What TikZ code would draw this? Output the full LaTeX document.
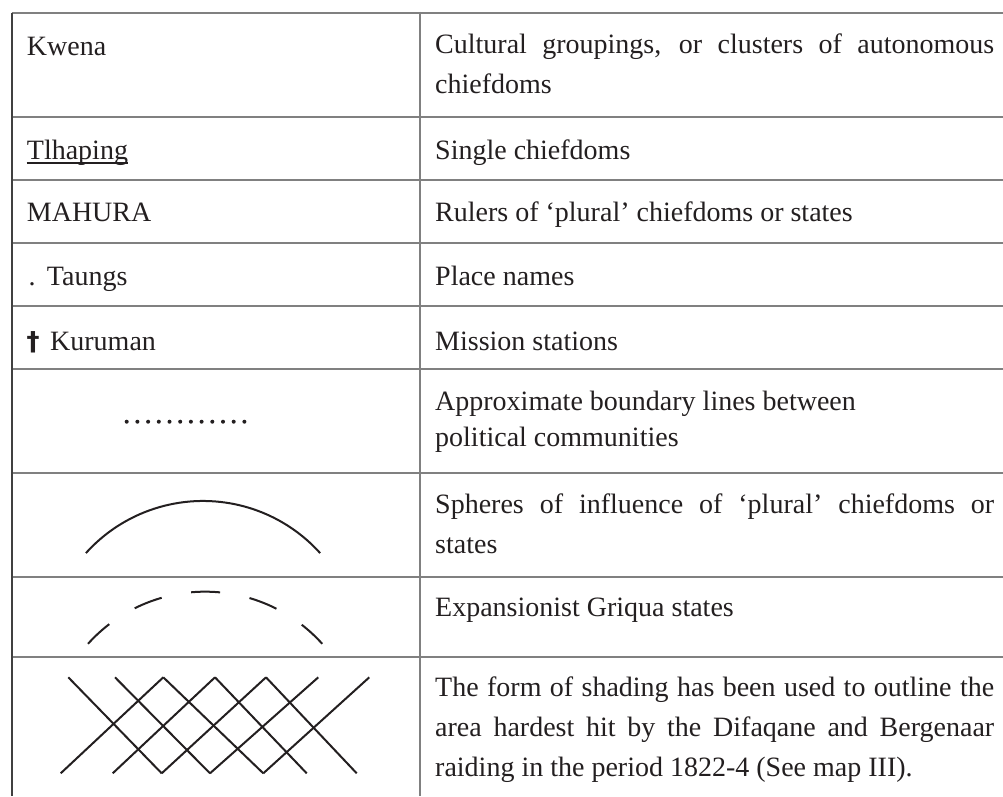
\documentclass[tikz,border=0pt]{standalone}
\usepackage{fontspec}
\setmainfont{Liberation Serif}
\newfontfamily\dagfont{DejaVu Sans}
\definecolor{ink}{HTML}{231F20}
\definecolor{rulegray}{HTML}{808080}
\definecolor{leftrule}{HTML}{404040}
\begin{document}
\begin{tikzpicture}[x=1pt,y=-1pt,
  tbl/.style={draw=rulegray,line width=2pt},
  txt/.style={anchor=base west,inner sep=0pt,text=ink,font=\fontsize{28}{40}\selectfont},
  sym/.style={draw=ink,line width=2pt},
]
\useasboundingbox (0,0) rectangle (1003,796);

% table rules
\foreach \yy in {12.7,116.7,180,242.7,306,369,472.7,576.9,657}
  \draw[tbl] (11.7,\yy) -- (1003,\yy);
\draw[draw=leftrule,line width=1.8pt] (11.7,12.7) -- (11.7,796);
\draw[tbl] (420,11.7) -- (420,796);

% left column
\node[txt] (kwena) at (26.7,55) {Kwena};
\node[txt] (tlh) at (26.7,159.3) {Tlhaping};
\draw[draw=ink,line width=1.4pt] ([yshift=-3.6pt]tlh.base west) -- ([yshift=-3.6pt]tlh.base east);
\node[txt] (mah) at (26.7,221.7) {MAHURA};
\node[txt] (tdot) at (28.5,285) {.};
\node[txt] (taungs) at (46.7,285) {Taungs};
\node[txt] (dag) at (26.5,350) {\dagfont\bfseries\fontsize{26}{30}\selectfont †};
\node[txt] (kur) at (50,350) {Kuruman};

% dotted boundary symbol
\foreach \i in {0,...,11}
  \fill[ink] (126.7+\i*10.7,421.7) circle[radius=2];

% solid arc
\draw[sym] (85.9,553.1) arc[start angle=-138,end angle=-42,radius=157.6];

% dashed arc
\draw[sym,dash pattern=on 29pt off 30pt] (88,643.8) arc[start angle=-138,end angle=-42,radius=157.6];

% cross-hatching
\foreach \a/\b in {68.3/161.7,115/210,163.3/263.3,215/306.7,266/356.7}
  \draw[sym] (\a,677.3) -- (\b,773.3);
\foreach \a/\b in {60.7/163.3,112.7/215,161.7/266,210/318.3,263.3/369.3}
  \draw[sym] (\a,773.3) -- (\b,677.3);

% right column
\node[txt] (r1a) at (435,53.3) {\makebox[559pt][s]{Cultural groupings, or clusters of autonomous}};
\node[txt] (r1b) at (435,93.3) {chiefdoms};
\node[txt] (r2) at (435,159.3) {Single chiefdoms};
\node[txt] (r3) at (435,221.7) {Rulers of ‘plural’ chiefdoms or states};
\node[txt] (r4) at (435,285) {Place names};
\node[txt] (r5) at (435,350) {Mission stations};
\node[txt] (r6a) at (435,410.5) {Approximate boundary lines between};
\node[txt] (r6b) at (435,446.7) {political communities};
\node[txt] (r7a) at (435,513.3) {\makebox[559pt][s]{Spheres of influence of ‘plural’ chiefdoms or}};
\node[txt] (r7b) at (435,553.3) {states};
\node[txt] (r8) at (435,616.7) {Expansionist Griqua states};
\node[txt] (r9a) at (435,696.7) {\makebox[559pt][s]{The form of shading has been used to outline the}};
\node[txt] (r9b) at (435,736.7) {\makebox[559pt][s]{area hardest hit by the Difaqane and Bergenaar}};
\node[txt] (r9c) at (435,776) {raiding in the period 1822-4 (See map III).};
\end{tikzpicture}
\end{document}
